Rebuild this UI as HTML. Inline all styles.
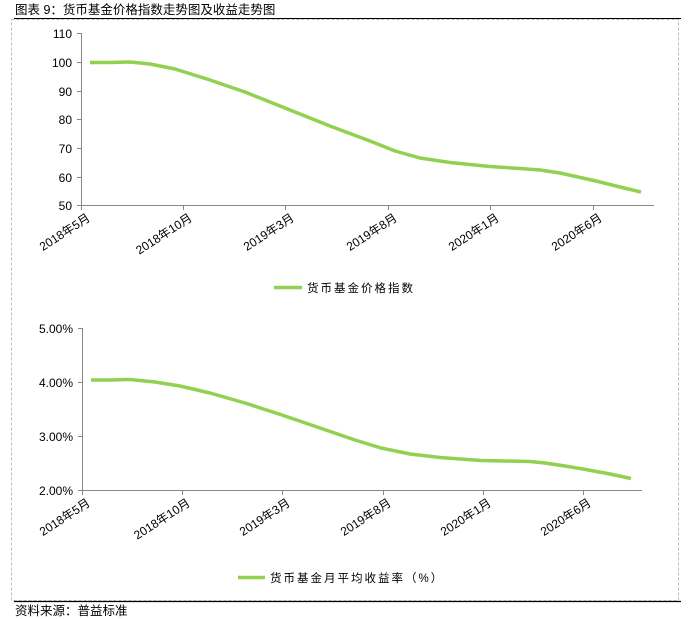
<!DOCTYPE html>
<html><head><meta charset="utf-8"><style>
body{margin:0;background:#fff;}
svg{display:block;font-family:"Liberation Sans","Noto Sans CJK SC",sans-serif;}
</style></head><body>
<svg width="688" height="619" viewBox="0 0 688 619">
<text x="15" y="14" font-size="12.5" fill="#000">图表 9：货币基金价格指数走势图及收益走势图</text>
<line x1="14" y1="18.5" x2="681" y2="18.5" stroke="#000" stroke-width="1"/>
<rect x="11.5" y="19.5" width="667" height="581" fill="none" stroke="#bbb" stroke-dasharray="3,2"/>
<line x1="14" y1="601.5" x2="681" y2="601.5" stroke="#000" stroke-width="1.2"/>
<text x="15" y="615" font-size="12.5" fill="#000">资料来源：普益标准</text>

<!-- chart 1 -->
<g stroke="#888" stroke-width="1">
<line x1="81.5" y1="33" x2="81.5" y2="206"/>
<line x1="81" y1="205.5" x2="654" y2="205.5"/>
<line x1="77" y1="33.5" x2="81" y2="33.5"/><line x1="77" y1="62.5" x2="81" y2="62.5"/>
<line x1="77" y1="91.5" x2="81" y2="91.5"/><line x1="77" y1="119.5" x2="81" y2="119.5"/>
<line x1="77" y1="148.5" x2="81" y2="148.5"/><line x1="77" y1="177.5" x2="81" y2="177.5"/>
<line x1="77" y1="205.5" x2="81" y2="205.5"/>
<line x1="183.5" y1="205" x2="183.5" y2="210"/><line x1="285.5" y1="205" x2="285.5" y2="210"/>
<line x1="388.5" y1="205" x2="388.5" y2="210"/><line x1="490.5" y1="205" x2="490.5" y2="210"/>
<line x1="593.5" y1="205" x2="593.5" y2="210"/><line x1="81.5" y1="205" x2="81.5" y2="210"/>
</g>
<g font-size="12" fill="#000" text-anchor="end">
<text x="72" y="38">110</text><text x="72" y="67">100</text><text x="72" y="96">90</text>
<text x="72" y="124">80</text><text x="72" y="153">70</text><text x="72" y="182">60</text>
<text x="72" y="210">50</text>
</g>
<g font-size="12" fill="#000" text-anchor="end">
<text transform="translate(91,220) rotate(-33)">2018年5月</text>
<text transform="translate(193,220) rotate(-33)">2018年10月</text>
<text transform="translate(295,220) rotate(-33)">2019年3月</text>
<text transform="translate(398,220) rotate(-33)">2019年8月</text>
<text transform="translate(500,220) rotate(-33)">2020年1月</text>
<text transform="translate(603,220) rotate(-33)">2020年6月</text>
</g>
<path d="M90,62.5 L110,62.5 L130,62 L150,64 L175,69 L210,80 L245,92 L285,108 L330,126 L370,141 L395,151 L420,158 L450,162.5 L490,166.5 L520,168.5 L540,170 L560,173 L596,181 L620,187 L641,192" fill="none" stroke="#92d050" stroke-width="3.5" stroke-linejoin="round"/>
<line x1="274" y1="287.5" x2="302" y2="287.5" stroke="#92d050" stroke-width="3.5"/>
<text x="307" y="292" font-size="11.5" letter-spacing="2" fill="#000">货币基金价格指数</text>

<!-- chart 2 -->
<g stroke="#888" stroke-width="1">
<line x1="82.5" y1="328" x2="82.5" y2="491"/>
<line x1="82" y1="490.5" x2="642" y2="490.5"/>
<line x1="78" y1="328.5" x2="82" y2="328.5"/><line x1="78" y1="382.5" x2="82" y2="382.5"/>
<line x1="78" y1="436.5" x2="82" y2="436.5"/><line x1="78" y1="490.5" x2="82" y2="490.5"/>
<line x1="182.5" y1="490" x2="182.5" y2="495"/><line x1="282.5" y1="490" x2="282.5" y2="495"/>
<line x1="383.5" y1="490" x2="383.5" y2="495"/><line x1="483.5" y1="490" x2="483.5" y2="495"/>
<line x1="583.5" y1="490" x2="583.5" y2="495"/><line x1="82.5" y1="490" x2="82.5" y2="495"/>
</g>
<g font-size="12" fill="#000" text-anchor="end">
<text x="73" y="333">5.00%</text><text x="73" y="387">4.00%</text>
<text x="73" y="441">3.00%</text><text x="73" y="495">2.00%</text>
</g>
<g font-size="12" fill="#000" text-anchor="end">
<text transform="translate(91,505) rotate(-33)">2018年5月</text>
<text transform="translate(191,505) rotate(-33)">2018年10月</text>
<text transform="translate(291,505) rotate(-33)">2019年3月</text>
<text transform="translate(392,505) rotate(-33)">2019年8月</text>
<text transform="translate(492,505) rotate(-33)">2020年1月</text>
<text transform="translate(592,505) rotate(-33)">2020年6月</text>
</g>
<path d="M91,380 L110,380 L130,379.5 L155,382 L180,386 L210,393 L245,403 L282,415 L320,428 L355,440 L381,448 L410,454 L440,457.5 L481,460.5 L505,461 L530,461.5 L545,463 L565,466 L583,469 L610,474 L631,478.5" fill="none" stroke="#92d050" stroke-width="3.5" stroke-linejoin="round"/>
<line x1="238" y1="577.5" x2="265" y2="577.5" stroke="#92d050" stroke-width="3.5"/>
<text x="270" y="582" font-size="11.5" letter-spacing="2" fill="#000">货币基金月平均收益率（%）</text>
</svg>
</body></html>
